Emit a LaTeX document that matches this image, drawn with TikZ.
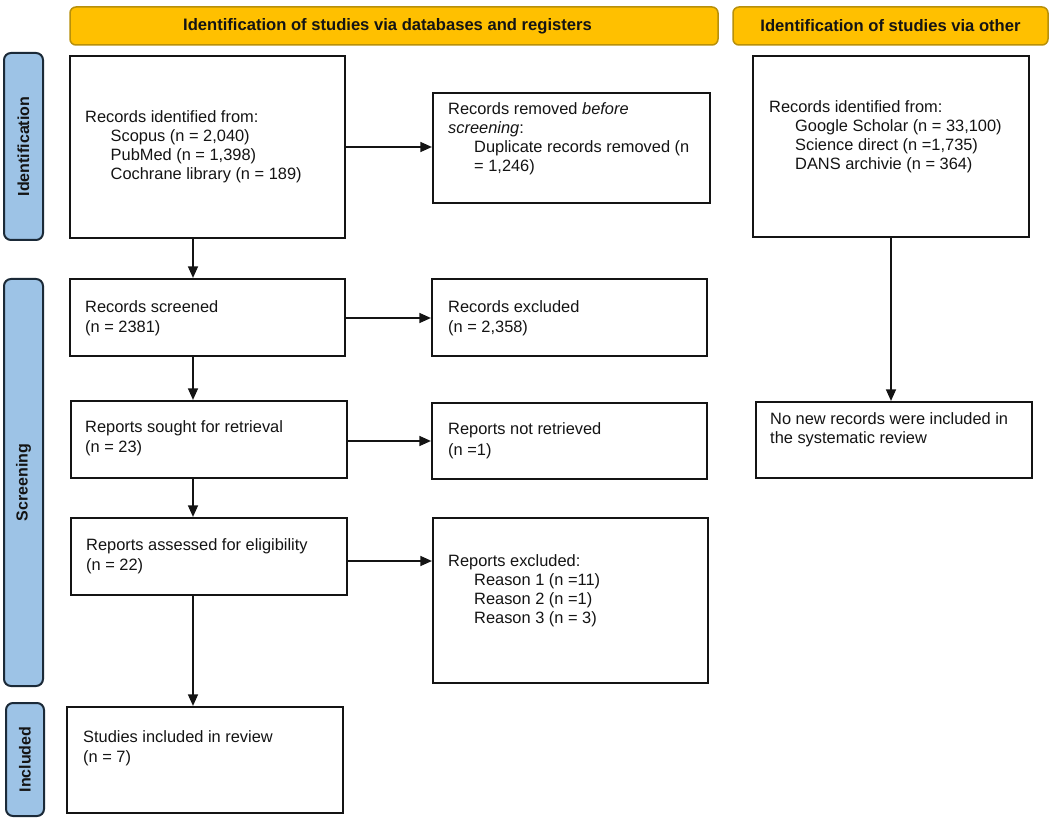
\documentclass[tikz,border=0pt]{standalone}
\usepackage{fontspec}
\setmainfont{Liberation Sans}
\usetikzlibrary{arrows.meta}
\definecolor{bannerfill}{HTML}{FFC000}
\definecolor{bannerdraw}{HTML}{B8900A}
\definecolor{sidefill}{HTML}{9DC3E6}
\definecolor{sidedraw}{HTML}{1B2A38}
\definecolor{inkc}{HTML}{141414}
\begin{document}
\begin{tikzpicture}[x=1pt,y=-1pt,
  box/.style={draw=inkc, line width=2.2pt, fill=white, inner sep=0pt},
  txt/.style={anchor=west, inner sep=0pt, align=left, text=inkc, font=\fontsize{16.4}{19}\selectfont},
  txtb/.style={txt, font=\fontsize{16.4}{20.5}\selectfont},
  banner/.style={draw=bannerdraw, fill=bannerfill, line width=1.5pt, rounded corners=6pt, inner sep=0pt, text=inkc, font=\bfseries\fontsize{16.6}{19}\selectfont},
  side/.style={draw=sidedraw, fill=sidefill, line width=2pt, rounded corners=7pt, inner sep=0pt, text=inkc, font=\bfseries\fontsize{16}{19}\selectfont},
  arr/.style={draw=inkc, line width=1.3pt, -{Triangle[length=11.5pt,width=10pt]}}
]
\fill[white] (0,0) rectangle (1053,821);
\useasboundingbox (0,0) rectangle (1053,821);

% banners
\node[banner, minimum width=648pt, minimum height=38pt] (ban1) at (394,26) {Identification of studies via databases and registers\hspace*{13pt}};
\node[banner, minimum width=315pt, minimum height=38pt] (ban2) at (890.5,26) {Identification of studies via other};

% side labels
\node[side, minimum width=39pt, minimum height=187pt] (sid1) at (23.5,146.5) {\rotatebox{90}{Identification}};
\node[side, minimum width=39pt, minimum height=407pt] (sid2) at (23.5,482.5) {\rotatebox{90}{Screening}};
\node[side, minimum width=38pt, minimum height=113pt] (sid3) at (25,759.5) {\rotatebox{90}{Included}};

% boxes
\node[box, minimum width=275pt, minimum height=182pt] (ident) at (207.5,147) {};
\node[box, minimum width=277pt, minimum height=110pt] (removed) at (571.5,148) {};
\node[box, minimum width=276pt, minimum height=181pt] (other) at (891,146.5) {};
\node[box, minimum width=275pt, minimum height=77pt] (screened) at (207.5,317.5) {};
\node[box, minimum width=275pt, minimum height=77pt] (excluded) at (569.5,317.5) {};
\node[box, minimum width=276pt, minimum height=77pt] (sought) at (209,439.5) {};
\node[box, minimum width=275pt, minimum height=76pt] (notret) at (569.5,441) {};
\node[box, minimum width=276pt, minimum height=76pt] (nonew) at (894,440) {};
\node[box, minimum width=276pt, minimum height=77pt] (assessed) at (209,556.5) {};
\node[box, minimum width=275pt, minimum height=165pt] (repexcl) at (570.5,600.5) {};
\node[box, minimum width=276pt, minimum height=106pt] (studies) at (205,760) {};

% texts
\node[txt] (identT) at (85,147) {Records identified from:\\\hspace*{25.5pt}Scopus (n = 2,040)\\\hspace*{25.5pt}PubMed (n = 1,398)\\\hspace*{25.5pt}Cochrane library (n = 189)};
\node[txt] (removedT) at (448,138.5) {Records removed \textit{before}\\\textit{screening}:\\\hspace*{26pt}Duplicate records removed (n\\\hspace*{26pt}= 1,246)};
\node[txt] (otherT) at (769,136.5) {Records identified from:\\\hspace*{26pt}Google Scholar (n = 33,100)\\\hspace*{26pt}Science direct (n =1,735)\\\hspace*{26pt}DANS archivie (n = 364)};
\node[txtb] (screenedT) at (85,318.5) {Records screened\\(n = 2381)};
\node[txtb] (excludedT) at (448,318.5) {Records excluded\\(n = 2,358)};
\node[txtb] (soughtT) at (85,438.5) {Reports sought for retrieval\\(n = 23)};
\node[txtb] (notretT) at (448,441) {Reports not retrieved\\(n =1)};
\node[txt] (nonewT) at (770,430) {No new records were included in\\the systematic review};
\node[txtb] (assessedT) at (86,556.5) {Reports assessed for eligibility\\(n = 22)};
\node[txt] (repexclT) at (448,591) {Reports excluded:\\\hspace*{26pt}Reason 1 (n =11)\\\hspace*{26pt}Reason 2 (n =1)\\\hspace*{26pt}Reason 3 (n = 3)};
\node[txtb] (studiesT) at (83,748.5) {Studies included in review\\(n = 7)};

% connector helpers
\coordinate (vx) at (193,0);
\coordinate (hy1) at (0,147);
\coordinate (hy2) at (0,318);
\coordinate (hy3) at (0,441);
\coordinate (hy4) at (0,561);

% connectors
\draw[arr] (ident.south -| vx) -- (screened.north -| vx);
\draw[arr] (screened.south -| vx) -- (sought.north -| vx);
\draw[arr] (sought.south -| vx) -- (assessed.north -| vx);
\draw[arr] (assessed.south -| vx) -- (studies.north -| vx);
\draw[arr] (ident.east |- hy1) -- (removed.west |- hy1);
\draw[arr] (screened.east |- hy2) -- (excluded.west |- hy2);
\draw[arr] (sought.east |- hy3) -- (notret.west |- hy3);
\draw[arr] (assessed.east |- hy4) -- (repexcl.west |- hy4);
\draw[arr] (other.south) -- (nonew.north -| other.south);
\end{tikzpicture}
\end{document}
